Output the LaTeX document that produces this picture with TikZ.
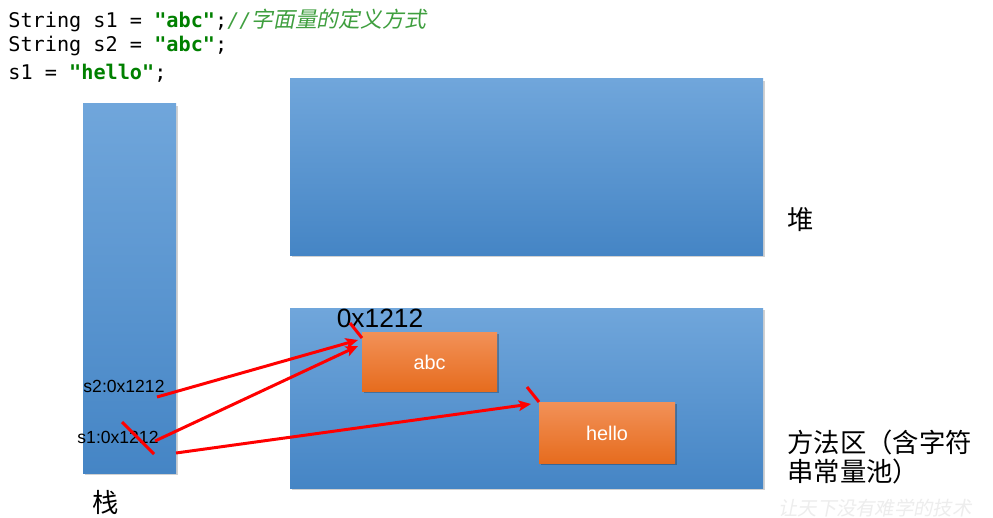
\documentclass[tikz,border=0pt]{standalone}
\usepackage{fontspec}
\setmainfont{Liberation Sans}
\setmonofont{DejaVu Sans Mono}
\newfontfamily\cjk{Noto Sans CJK SC}
\newfontfamily\cjkit[FakeSlant=0.2]{Noto Sans CJK SC}
\usetikzlibrary{arrows.meta,shadows}
\definecolor{codegreen}{HTML}{008000}
\definecolor{comgreen}{HTML}{3F9F3F}
\definecolor{bluetop}{HTML}{70A6DB}
\definecolor{bluebot}{HTML}{4585C5}
\definecolor{orgtop}{HTML}{F29158}
\definecolor{orgbot}{HTML}{E66C1E}
\definecolor{arrowred}{HTML}{FF0000}
\tikzset{
  area/.style={top color=bluetop,bottom color=bluebot,draw=none,
    drop shadow={shadow xshift=1.2pt,shadow yshift=-1.2pt,opacity=0.18,fill=black}},
  strbox/.style={top color=orgtop,bottom color=orgbot,draw=none,
    drop shadow={shadow xshift=1.2pt,shadow yshift=-1.2pt,opacity=0.25,fill=black}},
  redline/.style={draw=arrowred,line width=1.7pt},
  redarrow/.style={redline,-{Stealth[length=7pt,width=6pt,inset=1.5pt]}},
  code/.style={anchor=west,inner sep=0pt,font=\ttfamily\fontsize{11.5}{13}\selectfont},
  lbl/.style={inner sep=0pt,font=\fontsize{10}{11}\selectfont},
  big/.style={inner sep=0pt,font=\cjk\fontsize{15}{17}\selectfont},
}
\begin{document}
\begin{tikzpicture}[x=0.02cm,y=-0.02cm]
\useasboundingbox (0,0) rectangle (993,517);
\fill[white] (0,0) rectangle (993,517);
% code
\node[code] (c1) at (8,20) {String s1 = \textbf{\color{codegreen}"abc"};{\color{comgreen}\itshape//{\cjkit\fontsize{12.4}{13}\selectfont 字面量的定义方式}}};
\node[code] (c2) at (8,46) {String s2 = \textbf{\color{codegreen}"abc"};};
\node[code] (c3) at (8,73) {s1 = \textbf{\color{codegreen}"hello"};};
% areas
\path[area] (83,104) rectangle (176,473);
\node[inner sep=0pt] (stack) at (129.5,288) {};
\path[area] (290,79) rectangle (763,255);
\node[inner sep=0pt] (heap) at (526,167) {};
\path[area] (290,308) rectangle (763,488);
\node[inner sep=0pt] (method) at (526,398) {};
% string boxes
\path[strbox] (362,332) rectangle (497,391);
\node[inner sep=0pt,text=white,font=\fontsize{11.3}{13}\selectfont] (abc) at (429.5,362) {abc};
\path[strbox] (539,402) rectangle (675,463);
\node[inner sep=0pt,text=white,font=\fontsize{11.3}{13}\selectfont] (hello) at (607,433) {hello};
% labels
\node[lbl] (s2) at (124,386) {s2:0x1212};
\node[lbl] (s1) at (118,437) {s1:0x1212};
\node[big] (zhan) at (106,502) {栈};
\node[big] (dui) at (801,220) {堆};
\node[big,anchor=west,align=left] (fang) at (787,457) {方法区（含字符\\串常量池）};
\node[inner sep=0pt,font=\fontsize{15}{17}\selectfont] (addr) at (380,318) {0x1212};
\node[inner sep=0pt,text=black!7,font=\cjkit\fontsize{11}{12}\selectfont,anchor=west] (wm) at (778,508) {让天下没有难学的技术};
% connector anchor coordinates
\coordinate (s2o) at (157,397);
\coordinate (s1o) at (155,441);
\coordinate (s1e) at (176,453);
\coordinate (abc1) at (358,340);
\coordinate (abc2) at (358,346);
\coordinate (hel) at (531,404);
\coordinate (x1a) at (122,422);
\coordinate (x1b) at (154,454);
\coordinate (x2a) at (350,323);
\coordinate (x2b) at (362,338);
\coordinate (x3a) at (527,387);
\coordinate (x3b) at (539,402);
% arrows
\draw[redarrow] (s2o) -- (abc1);
\draw[redarrow] (s1o) -- (abc2);
\draw[redarrow] (s1e) -- (hel);
\draw[redline] (x1a) -- (x1b);
\draw[redline] (x2a) -- (x2b);
\draw[redline] (x3a) -- (x3b);
\end{tikzpicture}
\end{document}
